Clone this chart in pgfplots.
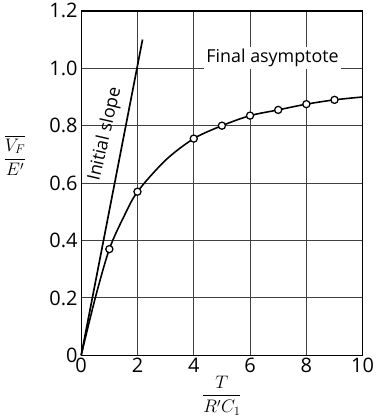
\documentclass[border=0pt]{standalone}
\usepackage{amsmath}
\usepackage{fontspec}
\setmainfont{Open Sans}
\usepackage{pgfplots}
\pgfplotsset{compat=1.18}

\begin{document}
\begin{tikzpicture}
\begin{axis}[
    scale only axis,
    width=268pt, height=328pt,
    xmin=0, xmax=10, ymin=0, ymax=1.2,
    xtick={0,2,...,10},
    ytick={0,0.2,...,1.2},
    yticklabels={0,0.2,0.4,0.6,0.8,1.0,1.2},
    grid=major,
    major grid style={black!75, line width=0.9pt},
    axis line style={line width=1.3pt},
    major tick length=0pt,
    tick label style={font=\fontsize{19}{22}\selectfont},
    xticklabel style={yshift=1pt},
    /pgf/number format/assume math mode=true,
    xlabel={$\dfrac{T}{R'C_1}$},
    ylabel={$\dfrac{\overline{V_F}}{E'}$},
    xlabel style={font=\fontsize{18}{21}\selectfont, yshift=4pt},
    ylabel style={font=\fontsize{18}{21}\selectfont, rotate=-90,
        at={(axis description cs:-0.235,0.58)}, anchor=center},
    clip=false,
]
% initial slope line
\addplot[black, line width=1.6pt] coordinates {(0,0) (2.18,1.1)};
% response curve
\addplot[black, line width=1.5pt, smooth] coordinates {
    (0,0) (0.5,0.2) (1,0.37) (1.5,0.48) (2,0.57) (3,0.68) (4,0.755)
    (5,0.80) (6,0.835) (7,0.855) (8,0.875) (9,0.89) (10,0.90)
};
% measured points
\addplot[only marks, mark=*, mark size=3.4pt, mark options={fill=white, draw=black, line width=1.2pt}] coordinates {
    (1,0.37) (2,0.57) (4,0.755) (5,0.80) (6,0.835) (7,0.855) (8,0.875) (9,0.89)
};
\node[font=\fontsize{17}{19}\selectfont, rotate=77, inner sep=1pt] at (axis cs:0.86,0.77) {Initial slope};
\node[font=\fontsize{17}{19}\selectfont, fill=white, inner sep=2pt] at (axis cs:6.8,1.035) {Final asymptote};
\end{axis}
\end{tikzpicture}
\end{document}
